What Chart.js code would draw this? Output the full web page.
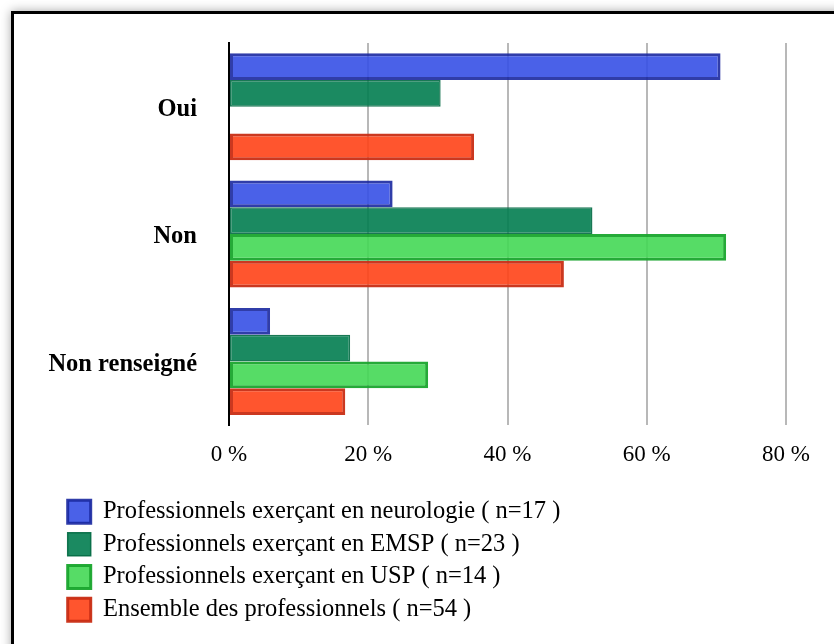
<!DOCTYPE html>
<html>
<head>
<meta charset="utf-8">
<script src="https://cdn.jsdelivr.net/npm/chart.js@4"></script>
<style>
  html, body { margin: 0; padding: 0; width: 834px; height: 644px; overflow: hidden; background: #fff; }
  #frame { position: absolute; left: 11px; top: 11px; width: 900px; height: 700px; border: 3px solid #000; box-shadow: 0 0 10px rgba(0,0,0,0.35); background: #fff; }
  #c { position: absolute; left: 0; top: 0; }
</style>
</head>
<body>
<div id="frame"></div>
<canvas id="c" width="834" height="644"></canvas>
<script>
const categories = ["Oui", "Non", "Non renseigné"];
const seriesNames = [
  "Professionnels exerçant en neurologie ( n=17 )",
  "Professionnels exerçant en EMSP ( n=23 )",
  "Professionnels exerçant en USP ( n=14 )",
  "Ensemble des professionnels ( n=54 )"
];
const neurologie = [70.6, 23.5, 5.9];
const emsp = [30.4, 52.2, 17.4];
const usp = [0, 71.4, 28.6];
const ensemble = [35.2, 48.1, 16.7];
const xTicks = [0, 20, 40, 60, 80];

const fills = ["rgba(54,80,229,0.9)", "rgba(2,125,80,0.9)", "rgba(68,216,85,0.9)", "rgba(255,66,23,0.9)"];
const borders = ["rgba(25,40,160,0.9)", "rgba(0,105,65,0.9)", "rgba(25,165,45,0.95)", "rgba(200,45,20,0.95)"];
const widths = [3, 1.5, 3, 3];
const values = [neurologie, emsp, usp, ensemble];

const datasets = values.map((v, i) => ({
  label: seriesNames[i],
  data: v,
  backgroundColor: fills[i],
  borderColor: borders[i],
  borderWidth: widths[i],
  borderSkipped: false,
  categoryPercentage: 0.84,
  barPercentage: 1.0
}));

const shiftLegend = {
  id: 'shiftLegend',
  afterLayout(chart) {
    if (chart.legend) { chart.legend.left = 59.5; }
  }
};

new Chart(document.getElementById('c'), {
  type: 'bar',
  data: { labels: categories, datasets },
  plugins: [shiftLegend],
  options: {
    indexAxis: 'y',
    responsive: false,
    animation: false,
    layout: { padding: { top: 43, left: 0, right: 48, bottom: 12 } },
    scales: {
      x: {
        min: 0, max: 80,
        afterBuildTicks: (s) => { s.ticks = xTicks.map(v => ({ value: v })); },
        afterFit: (s) => { s.height = 66; s.paddingLeft = 0; s.paddingRight = 0; },
        border: { display: false },
        grid: {
          drawTicks: false,
          lineWidth: 2,
          color: (ctx) => (ctx.tick && ctx.tick.value === 0) ? 'rgba(0,0,0,0)' : '#b8b8b8'
        },
        ticks: {
          padding: 16,
          color: '#000',
          font: { family: '"Liberation Serif", "Times New Roman", serif', size: 23 },
          callback: (v) => v + ' %'
        }
      },
      y: {
        afterFit: (s) => { s.width = 229; s.paddingTop = 0; s.paddingBottom = 0; },
        border: { display: true, color: '#000', width: 2 },
        grid: { display: false, drawTicks: false },
        ticks: {
          padding: 32,
          labelOffset: 3,
          color: '#000',
          font: { family: '"Liberation Serif", "Times New Roman", serif', size: 24.5, weight: 'bold' }
        }
      }
    },
    plugins: {
      tooltip: { enabled: false },
      legend: {
        position: 'bottom',
        align: 'start',
        labels: {
          boxWidth: 23,
          boxHeight: 23,
          padding: 8.2,
          color: '#000',
          font: { family: '"Liberation Serif", "Times New Roman", serif', size: 24.5 }
        }
      }
    }
  }
});
</script>
</body>
</html>
